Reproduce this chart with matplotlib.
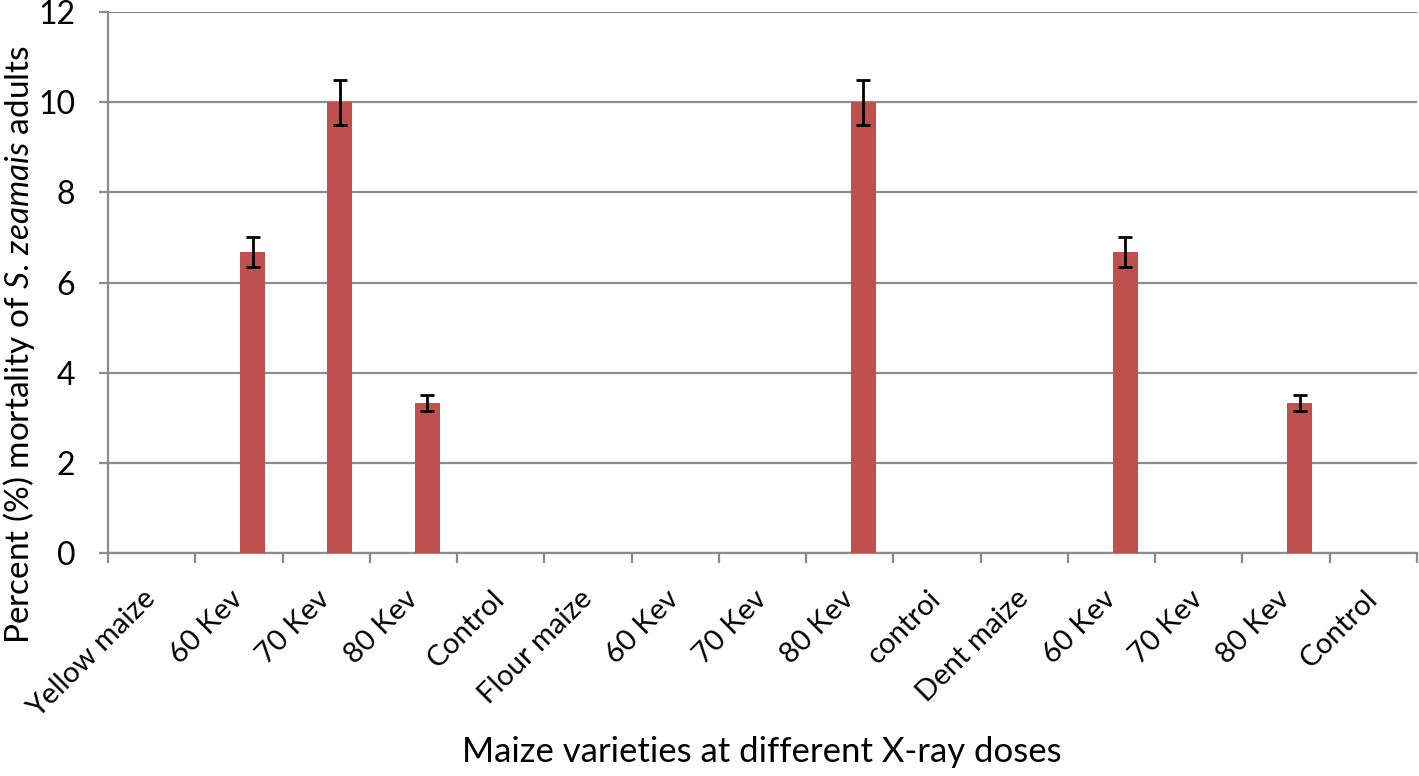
import matplotlib.pyplot as plt
import numpy as np

plt.rcParams.update(
    {
        "font.family": ["Lato", "DejaVu Sans"],
        "mathtext.fontset": "custom",
        "mathtext.rm": "Lato",
        "mathtext.it": "Lato:italic",
    }
)

categories = [
    "Yellow maize", "60 Kev", "70 Kev", "80 Kev", "Control",
    "Flour maize", "60 Kev", "70 Kev", "80 Kev", "controi",
    "Dent maize", "60 Kev", "70 Kev", "80 Kev", "Control",
]
mortality = [0, 6.67, 10, 3.33, 0, 0, 0, 0, 10, 0, 0, 6.67, 0, 3.33, 0]
errors = [0, 0.33, 0.5, 0.17, 0, 0, 0, 0, 0.5, 0, 0, 0.33, 0, 0.17, 0]

BAR_COLOR = "#C0504D"
GRID_COLOR = "#8C8C8C"

fig = plt.figure(figsize=(14.19, 7.76), dpi=100)
ax = fig.add_axes([0.0761, 0.2874, 0.9225, 0.6971])

x = np.arange(len(categories))
vals = np.array(mortality)
errs = np.array(errors)
shown = vals > 0

# Excel-style second-series offset within each category
offset = 0.157
ax.bar(x[shown] + offset, vals[shown], width=0.287, color=BAR_COLOR, zorder=3)
ax.errorbar(
    x[shown] + offset, vals[shown], yerr=errs[shown], fmt="none",
    ecolor="black", elinewidth=2, capsize=5, capthick=2, zorder=4,
)

ax.set_xlim(-0.5, len(categories) - 0.5)
ax.set_ylim(0, 12)
ax.set_yticks(np.arange(0, 13, 2))
ax.yaxis.grid(True, color=GRID_COLOR, linewidth=1.6)
ax.set_axisbelow(True)

for side in ["top", "right"]:
    ax.spines[side].set_visible(False)
for side in ["left", "bottom"]:
    ax.spines[side].set_color(GRID_COLOR)
    ax.spines[side].set_linewidth(1.6)

# ticks between categories on x
ax.set_xticks(np.arange(-0.5, len(categories)), minor=False)
ax.set_xticklabels([])
ax.set_xticks(x, minor=True)
ax.set_xticklabels(categories, minor=True, rotation=45, ha="right",
                   va="center", rotation_mode="anchor", fontsize=21)
ax.tick_params(axis="x", which="major", length=7, width=1.6, color=GRID_COLOR)
ax.tick_params(axis="x", which="minor", length=0, pad=30)
ax.tick_params(axis="y", length=6.5, width=1.6, color=GRID_COLOR,
               labelsize=23, pad=17)

fig.text(762 / 1419, 1 - 752 / 776, "Maize varieties at different X-ray doses",
         fontsize=25, ha="center", va="center")
fig.text(19 / 1419, 1 - 345 / 776,
         r"Percent (%) mortality of $\mathit{S.\,zeamais}$ adults",
         fontsize=24, rotation=90, ha="center", va="center")

fig.savefig("out.png", dpi=100)
